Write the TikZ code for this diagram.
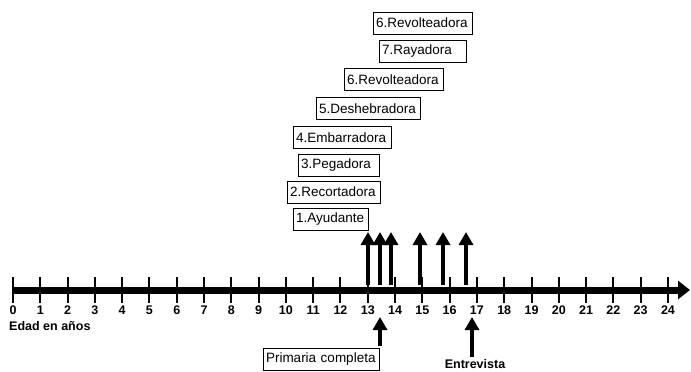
\documentclass[tikz,border=0pt]{standalone}
\usepackage{fontspec}
\setmainfont{Liberation Sans}
\usetikzlibrary{arrows.meta}

\tikzset{
  job/.style={draw, line width=0.8pt, anchor=west, outer sep=0pt,
    inner xsep=3pt, inner ysep=0pt, minimum height=22pt, align=left,
    font=\fontsize{13.5}{15}\selectfont},
  lbl/.style={inner sep=0pt, font=\bfseries\fontsize{12.5}{14}\selectfont},
  up/.style={line width=4.7pt, -{Triangle[width=14pt,length=13pt]}},
  tick/.style={line width=2pt},
}

\begin{document}
\begin{tikzpicture}[x=1pt,y=-1pt]
      \useasboundingbox (0,0) rectangle (691,372);
      \path
      (293,219.5) node[job,text width=69pt] (ayud) {1.Ayudante}
      (287,192) node[job,text width=87pt] (recort) {2.Recortadora}
      (298,165) node[job,text width=75pt] (peg) {3.Pegadora}
      (293,137.5) node[job,text width=92pt] (embarr) {4.Embarradora}
      (316,108.5) node[job,text width=98pt] (deshebr) {5.Deshebradora}
      (344,79.5) node[job,text width=93pt] (revolt) {6.Revolteadora}
      (379,51) node[job,text width=81pt] (raya) {7.Rayadora}
      (373,23) node[job,text width=93pt] (revoltb) {6.Revolteadora}
      (263,359) node[job,text width=110pt] (prim) {Primaria completa}
      (475,364) node[lbl] (entrev) {Entrevista}
      (9,326) node[lbl,anchor=west] (edad) {Edad en años}
      (12,290) coordinate (orig)
      (690,290) coordinate (fin)
      (380,346) coordinate (prim0)
      (380,317) coordinate (prim1)
      (472,357) coordinate (entrev0)
      (472,317) coordinate (entrev1)
      ;

      % eje de edades
      \draw[line width=7pt, -{Triangle[width=18pt,length=12pt]}] (orig) -- (fin);
      \foreach \n in {0,...,24} {
        \draw[tick] (13+27.29*\n,277) -- (13+27.29*\n,303);
        \node[lbl] (n\n) at (13+27.29*\n,310.5) {\n};
      }

      % cambios de puesto
      \foreach \x [count=\i] in {368,380,391,420,443,466} {
        \coordinate (s\i) at (\x,285);
        \coordinate (p\i) at (\x,232);
        \draw[up] (s\i) -- (p\i);
      }

      \draw[up] (prim0) -- (prim1);
      \draw[up] (entrev0) -- (entrev1);
    \end{tikzpicture}
\end{document}
